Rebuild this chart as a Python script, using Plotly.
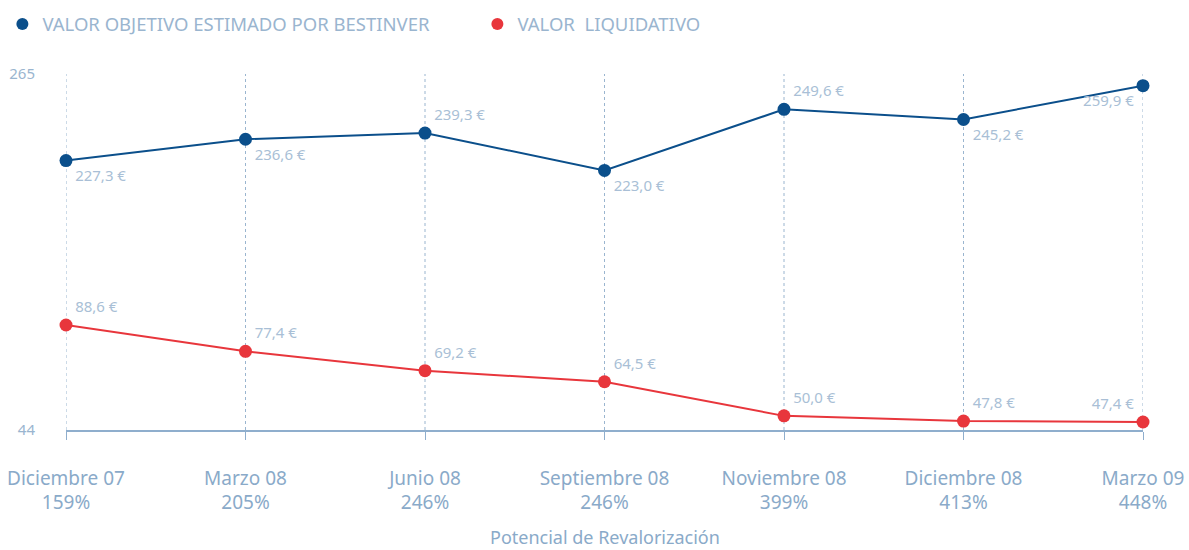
import plotly.graph_objects as go

periodos = ["Diciembre 07", "Marzo 08", "Junio 08", "Septiembre 08",
            "Noviembre 08", "Diciembre 08", "Marzo 09"]
potencial = ["159%", "205%", "246%", "246%", "399%", "413%", "448%"]
valor_objetivo = [227.3, 236.6, 239.3, 223.0, 249.6, 245.2, 259.9]
valor_liquidativo = [88.6, 77.4, 69.2, 64.5, 50.0, 47.8, 47.4]
series = ["VALOR OBJETIVO ESTIMADO POR BESTINVER", "VALOR  LIQUIDATIVO"]

BLUE = "#0b4f8b"
RED = "#e8363c"
LABEL = "#a9bfd6"
AXIS = "#8faecd"
TEXT = "#8aaac9"
FONT = "Noto Sans"


def eur(v):
    return f"{v:.1f}".replace(".", ",") + " €"


x = list(range(len(periodos)))
ticktext = [f"{p}<br>{q}" for p, q in zip(periodos, potencial)]

fig = go.Figure()

# dotted vertical guides at every period (incl. both ends)
for xi in x:
    fig.add_shape(type="line", xref="x", yref="paper", x0=xi, x1=xi, y0=0, y1=1,
                  line=dict(color="#9ab5cf", width=1, dash="dot"), layer="below")

fig.add_trace(go.Scatter(
    x=x, y=valor_objetivo, yaxis="y",
    mode="lines+markers+text", showlegend=False,
    line=dict(color=BLUE, width=2),
    marker=dict(color=BLUE, size=13),
    text=[eur(v) for v in valor_objetivo],
    textposition=["bottom right", "bottom right", "top right", "bottom right",
                  "top right", "bottom right", "bottom left"],
    textfont=dict(color=LABEL, size=15, family=FONT),
    cliponaxis=False,
))

fig.add_trace(go.Scatter(
    x=x, y=valor_liquidativo, yaxis="y2",
    mode="lines+markers+text", showlegend=False,
    line=dict(color=RED, width=2),
    marker=dict(color=RED, size=13),
    text=[eur(v) for v in valor_liquidativo],
    textposition=["top right"] * 6 + ["top left"],
    textfont=dict(color=LABEL, size=15, family=FONT),
    cliponaxis=False,
))

# legend entries: markers only
for name, color in zip(series, [BLUE, RED]):
    fig.add_trace(go.Scatter(x=[None], y=[None], mode="markers", name=name,
                             marker=dict(color=color, size=12)))

fig.add_annotation(text="Potencial de Revalorización", xref="paper", yref="paper",
                   x=0.5, y=-0.30, xanchor="center", yanchor="middle",
                   showarrow=False, font=dict(size=18, color=TEXT, family=FONT))

fig.update_layout(
    width=1189, height=550,
    margin=dict(l=66, r=46, t=74, b=120, autoexpand=False),
    paper_bgcolor="white", plot_bgcolor="white",
    font=dict(family=FONT, color=AXIS),
    showlegend=True,
    legend=dict(orientation="h", x=0.002, y=0.99, xref="container", yref="container",
                xanchor="left", yanchor="top",
                font=dict(size=18.5, color="#9ab5cf", family=FONT),
                entrywidth=430, entrywidthmode="pixels",
                traceorder="normal"),
    xaxis=dict(
        range=[0, 6], tickvals=x, ticktext=ticktext,
        showgrid=False,
        showline=True, linecolor=AXIS, linewidth=1.5,
        ticks="outside", ticklen=8, tickcolor=AXIS,
        ticklabelstandoff=22, ticklabeloverflow="allow",
        tickfont=dict(size=19, color=TEXT, family=FONT),
        zeroline=False, automargin=False,
    ),
    yaxis=dict(
        range=[110, 265], tickvals=[265], ticktext=["265"],
        showgrid=False, zeroline=False, showline=False,
        ticklabelstandoff=30, automargin=False, ticklabeloverflow="allow",
        tickfont=dict(size=15, color="#9ab5cf", family=FONT),
    ),
    yaxis2=dict(
        range=[44, 195.2], tickvals=[44], ticktext=["44"],
        overlaying="y", side="left",
        showgrid=False, zeroline=False, showline=False,
        ticklabelstandoff=30, automargin=False, ticklabeloverflow="allow",
        tickfont=dict(size=15, color="#9ab5cf", family=FONT),
    ),
)

fig.write_html("out.html",
               config={"displayModeBar": False},
               post_script="document.body.style.margin='0';"
                           "document.body.style.overflow='hidden';")
